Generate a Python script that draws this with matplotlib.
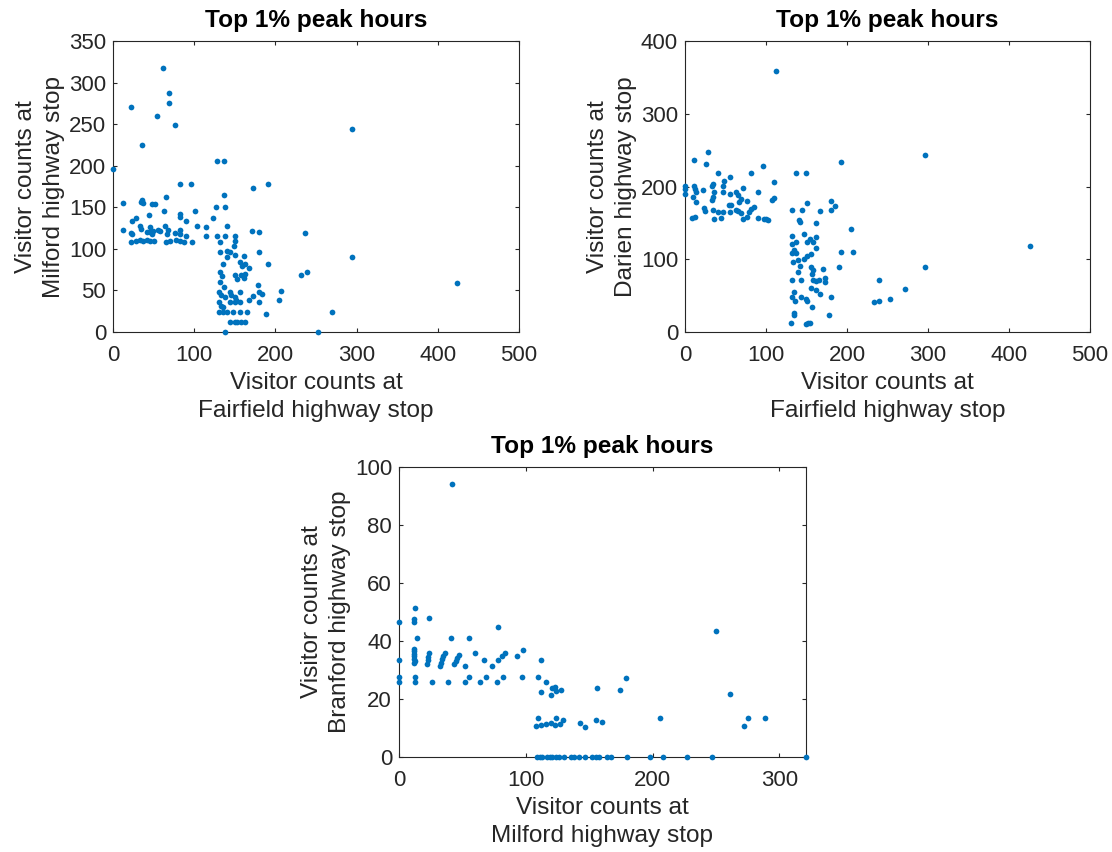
import numpy as np
import matplotlib
matplotlib.use("Agg")
import matplotlib.pyplot as plt

plt.rcParams['font.family'] = ['Liberation Sans', 'DejaVu Sans']

# Fairfield vs Milford (top 1% peak hours)
fair_a = [0, 61, 69, 69, 22, 54, 76, 36, 128, 137, 82, 96, 173, 191, 137, 65, 12, 34, 36, 37,
          48, 52, 63, 82, 82, 101, 127, 138, 123, 44, 90, 23, 28, 104, 115, 141, 12, 22, 24, 33,
          35, 42, 46, 45, 49, 48, 55, 58, 64, 68, 66, 76, 82, 82, 90, 22, 28, 33, 37, 42,
          45, 50, 65, 70, 78, 82, 87, 97, 115, 128, 138, 132, 150, 150, 149, 171, 180, 237, 132, 140,
          144, 141, 150, 161, 136, 156, 159, 162, 167, 180, 191, 132, 134, 150, 153, 158, 161, 162, 232, 239,
          132, 137, 131, 133, 138, 144, 145, 156, 150, 178, 173, 180, 184, 167, 180, 207, 204, 131, 133, 136,
          144, 150, 152, 156, 131, 135, 141, 148, 156, 165, 189, 144, 150, 153, 158, 162, 138, 252, 294, 294,
          424, 270]
milf_a = [196, 318, 288, 275, 271, 260, 249, 225, 206, 206, 178, 178, 173, 178, 165, 163, 155, 157, 159, 155,
          154, 154, 146, 142, 138, 146, 150, 150, 137, 141, 134, 134, 137, 127, 126, 128, 123, 119, 118, 128,
          124, 120, 126, 120, 122, 118, 123, 122, 128, 123, 118, 119, 123, 118, 115, 108, 110, 111, 110, 111,
          110, 110, 108, 110, 111, 110, 108, 108, 116, 116, 116, 108, 116, 110, 104, 122, 120, 119, 96, 98,
          96, 90, 93, 92, 82, 84, 80, 82, 77, 96, 82, 72, 67, 69, 64, 68, 65, 70, 68, 72,
          60, 54, 48, 44, 42, 48, 44, 48, 42, 56, 43, 48, 46, 38, 36, 49, 38, 36, 31, 30,
          36, 36, 38, 36, 24, 24, 24, 24, 24, 24, 22, 12, 12, 12, 12, 12, 0, 0, 244, 90,
          59, 24]

# Fairfield vs Darien
fair_b = [112, 28, 11, 26, 96, 192, 41, 81, 137, 150, 56, 48, 110, 0, 0, 0, 11, 12, 14, 22,
          33, 35, 36, 34, 33, 47, 47, 56, 63, 65, 71, 57, 54, 69, 67, 77, 90, 108, 110, 10,
          14, 12, 24, 25, 34, 41, 47, 55, 36, 45, 63, 65, 69, 72, 77, 79, 82, 85, 90, 97,
          100, 103, 9, 132, 144, 151, 180, 185, 180, 167, 141, 142, 162, 205, 132, 137, 132, 134, 147, 151,
          154, 162, 162, 158, 132, 137, 133, 139, 142, 147, 151, 156, 192, 208, 190, 171, 132, 143, 139, 156,
          158, 157, 158, 162, 166, 173, 173, 156, 162, 167, 134, 136, 132, 143, 149, 151, 157, 180, 178, 134,
          135, 131, 149, 152, 154, 296, 296, 426, 240, 272, 253, 240, 233]
dari_b = [359, 247, 236, 231, 228, 234, 219, 219, 219, 219, 213, 208, 206, 201, 196, 190, 201, 196, 192, 195,
          201, 204, 192, 185, 181, 201, 192, 190, 192, 188, 198, 174, 174, 183, 179, 180, 192, 181, 184, 185,
          179, 158, 170, 167, 168, 165, 165, 165, 156, 157, 168, 166, 163, 156, 158, 165, 169, 172, 157, 156,
          156, 154, 157, 168, 168, 178, 180, 173, 168, 167, 154, 151, 150, 142, 132, 124, 121, 113, 135, 124,
          128, 130, 116, 124, 108, 108, 96, 99, 91, 101, 104, 107, 110, 110, 90, 86, 72, 71, 82, 90,
          85, 80, 71, 70, 71, 74, 69, 60, 58, 52, 55, 42, 48, 48, 46, 42, 34, 48, 23, 26,
          23, 12, 11, 12, 13, 244, 90, 118, 72, 59, 46, 43, 41]

# Milford vs Branford
milf_c = [42, 0, 13, 12, 12, 24, 78, 14, 41, 55, 0, 12, 12, 12, 12, 12, 13, 12, 22, 23,
          23, 24, 32, 33, 34, 35, 36, 43, 45, 46, 47, 52, 60, 67, 73, 78, 81, 84, 93, 98,
          112, 0, 0, 13, 13, 26, 39, 52, 64, 77, 55, 69, 82, 97, 110, 116, 112, 120, 121, 123,
          124, 128, 156, 110, 108, 112, 116, 120, 123, 124, 127, 129, 143, 147, 155, 160, 174, 179, 206, 250,
          261, 272, 275, 289,
          109, 111, 113, 117, 119, 121, 124, 126, 130, 136, 138, 142, 147, 152, 155, 158, 164, 167, 180, 198,
          208, 227, 247, 321]
bran_c = [94.3, 46.5, 51.4, 47.6, 46.5, 48.1, 44.7, 41.1, 41.1, 41.1, 33.6, 37.3, 36.4, 35.6, 34.7, 33.9, 33.0, 32.4, 32.0, 33.3,
          34.5, 36.0, 31.3, 32.5, 33.7, 34.8, 36.0, 32.0, 33.2, 34.0, 35.0, 31.3, 36.0, 33.6, 31.3, 33.6, 34.7, 36.0, 34.7, 36.8,
          33.6, 27.5, 25.7, 27.5, 25.7, 25.7, 25.7, 25.7, 25.7, 25.7, 27.5, 27.5, 27.5, 27.5, 27.5, 25.7, 22.3, 21.5, 23.8, 24.1,
          22.6, 23.2, 23.8, 13.6, 10.8, 11.0, 11.5, 11.8, 11.0, 13.6, 11.5, 12.7, 11.8, 10.3, 12.7, 12.1, 23.0, 27.4, 13.6, 43.3,
          21.6, 10.8, 13.6, 13.6,
          0, 0, 0, 0, 0, 0, 0, 0, 0, 0, 0, 0, 0, 0, 0, 0, 0, 0, 0, 0,
          0, 0, 0, 0]

dot_color = '#0072BD'
ink = '#262626'

fig = plt.figure(figsize=(11.12, 8.52), dpi=100)


def panel(rect, x, y, xlab, ylab, xlim, ylim, xticks, yticks):
    ax = fig.add_axes(rect)
    ax.scatter(x, y, s=17, color=dot_color, linewidths=0, clip_on=False, zorder=3)
    ax.set_xlim(*xlim)
    ax.set_ylim(*ylim)
    ax.set_xticks(xticks)
    ax.set_yticks(yticks)
    ax.tick_params(direction='in', top=True, right=True, length=3, width=0.8,
                   labelsize=16, colors=ink)
    ax.tick_params(axis='x', pad=9)
    ax.tick_params(axis='y', pad=5)
    for s in ax.spines.values():
        s.set_color(ink)
        s.set_linewidth(0.8)
    ax.set_xlabel(xlab, fontsize=17.6, color=ink, labelpad=5, linespacing=1.35)
    ax.set_ylabel(ylab, fontsize=17.6, color=ink, labelpad=3, linespacing=1.35)
    ax.set_title('Top 1% peak hours', fontsize=17.6, fontweight='bold', pad=10)
    return ax


panel([0.1016, 0.6103, 0.3651, 0.3415], fair_a, milf_a,
      'Visitor counts at\nFairfield highway stop', 'Visitor counts at\nMilford highway stop',
      (0, 500), (0, 350), range(0, 501, 100), range(0, 351, 50))

panel([0.616, 0.6103, 0.3642, 0.3415], fair_b, dari_b,
      'Visitor counts at\nFairfield highway stop', 'Visitor counts at\nDarien highway stop',
      (0, 500), (0, 400), range(0, 501, 100), range(0, 401, 100))

panel([0.3588, 0.1115, 0.366, 0.3404], milf_c, bran_c,
      'Visitor counts at\nMilford highway stop', 'Visitor counts at\nBranford highway stop',
      (0, 321), (0, 100), range(0, 301, 100), range(0, 101, 20))

fig.savefig('out.png', dpi=100)
